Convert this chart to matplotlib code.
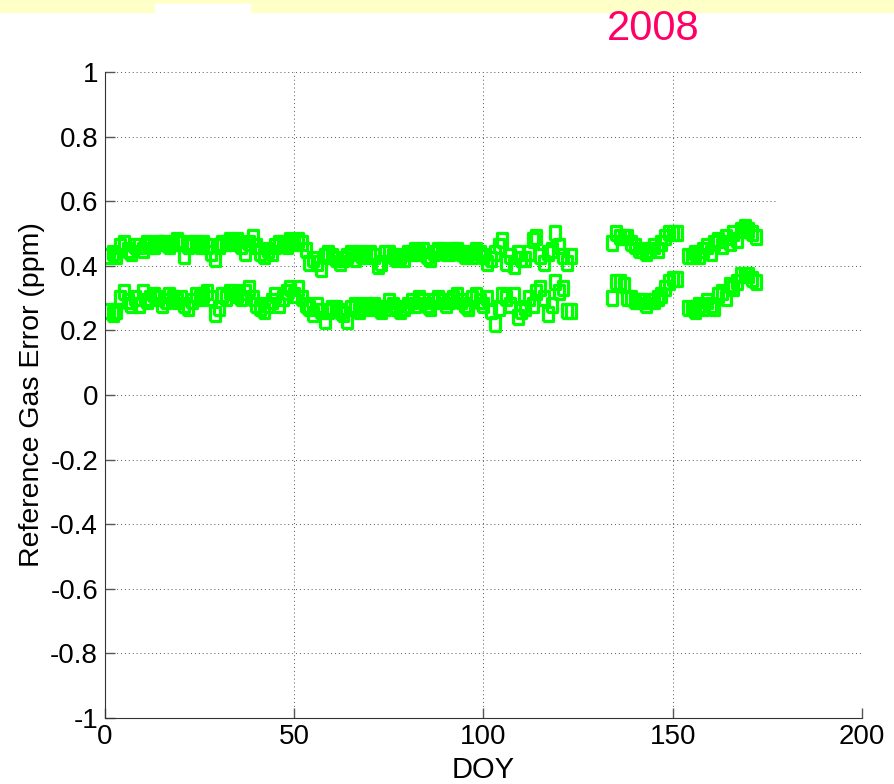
import numpy as np
import matplotlib.pyplot as plt
from matplotlib.patches import Rectangle

# day-of-year segments (first day, last day) -- gaps between them have no data
seg_days = [(1, 123), (134, 151), (154, 172)]

upper_1 = [0.43, 0.44, 0.43, 0.46, 0.47, 0.45, 0.44, 0.46, 0.46, 0.45,
           0.47, 0.46, 0.46, 0.47, 0.47, 0.47, 0.46, 0.47, 0.48, 0.47,
           0.43, 0.46, 0.47, 0.47, 0.46, 0.47, 0.46, 0.44, 0.42, 0.46,
           0.47, 0.47, 0.48, 0.47, 0.48, 0.46, 0.44, 0.47, 0.49, 0.46,
           0.44, 0.43, 0.45, 0.44, 0.46, 0.47, 0.47, 0.46, 0.48, 0.47,
           0.48, 0.47, 0.45, 0.41, 0.42, 0.41, 0.39, 0.43, 0.44, 0.43,
           0.42, 0.41, 0.42, 0.43, 0.44, 0.42, 0.44, 0.43, 0.43, 0.44,
           0.43, 0.40, 0.41, 0.44, 0.44, 0.43, 0.42, 0.43, 0.42, 0.44,
           0.44, 0.45, 0.44, 0.45, 0.43, 0.42, 0.44, 0.45, 0.45, 0.44,
           0.44, 0.45, 0.45, 0.44, 0.43, 0.44, 0.43, 0.45, 0.44, 0.43,
           0.41, 0.42, 0.44, 0.46, 0.48, 0.41, 0.43, 0.40, 0.44, 0.42,
           0.42, 0.44, 0.48, 0.49, 0.43, 0.41, 0.44, 0.45, 0.50, 0.46,
           0.43, 0.41, 0.43]
upper_2 = [0.47, 0.50, 0.49, 0.49, 0.49, 0.47, 0.46, 0.45, 0.45, 0.44,
           0.45, 0.46, 0.45, 0.47, 0.49, 0.50, 0.50, 0.50]
upper_3 = [0.43, 0.43, 0.44, 0.43, 0.45, 0.46, 0.44, 0.47, 0.48, 0.46,
           0.49, 0.47, 0.50, 0.48, 0.51, 0.52, 0.51, 0.50, 0.49]

lower_1 = [0.26, 0.25, 0.26, 0.30, 0.32, 0.29, 0.28, 0.30, 0.28, 0.32,
           0.29, 0.30, 0.31, 0.30, 0.28, 0.29, 0.31, 0.30, 0.29, 0.30,
           0.28, 0.27, 0.29, 0.31, 0.30, 0.31, 0.32, 0.30, 0.25, 0.27,
           0.31, 0.30, 0.32, 0.32, 0.31, 0.30, 0.32, 0.33, 0.30, 0.28,
           0.27, 0.26, 0.28, 0.29, 0.31, 0.28, 0.30, 0.32, 0.33, 0.31,
           0.33, 0.30, 0.28, 0.27, 0.25, 0.28, 0.26, 0.23, 0.26, 0.27,
           0.27, 0.26, 0.25, 0.23, 0.27, 0.28, 0.26, 0.27, 0.28, 0.27,
           0.28, 0.27, 0.26, 0.27, 0.29, 0.28, 0.27, 0.26, 0.27, 0.28,
           0.29, 0.28, 0.30, 0.29, 0.28, 0.27, 0.29, 0.30, 0.29, 0.28,
           0.29, 0.30, 0.31, 0.29, 0.28, 0.27, 0.30, 0.31, 0.29, 0.28,
           0.30, 0.26, 0.22, 0.27, 0.31, 0.30, 0.28, 0.31, 0.24, 0.26,
           0.27, 0.30, 0.28, 0.32, 0.33, 0.30, 0.25, 0.28, 0.35, 0.32,
           0.33, 0.26, 0.26]
lower_2 = [0.30, 0.35, 0.35, 0.34, 0.30, 0.30, 0.29, 0.29, 0.29, 0.28,
           0.29, 0.29, 0.30, 0.31, 0.33, 0.35, 0.36, 0.36]
lower_3 = [0.27, 0.27, 0.26, 0.28, 0.27, 0.29, 0.28, 0.27, 0.31, 0.32,
           0.30, 0.34, 0.33, 0.35, 0.37, 0.37, 0.37, 0.36, 0.35]

xticks = [0, 50, 100, 150, 200]
yticks = [-1, -0.8, -0.6, -0.4, -0.2, 0, 0.2, 0.4, 0.6, 0.8, 1]
ytick_labels = ['-1', '-0.8', '-0.6', '-0.4', '-0.2', '0', '0.2', '0.4', '0.6', '0.8', '1']

green = '#00ff00'
font = 'Liberation Sans'

fig = plt.figure(figsize=(8.95, 7.84), dpi=100)
ax = fig.add_axes([0.1173, 0.0842, 0.8458, 0.8240])

days = np.concatenate([np.arange(a, b + 1) for a, b in seg_days])
upper = np.array(upper_1 + upper_2 + upper_3)
lower = np.array(lower_1 + lower_2 + lower_3)

# slightly tall open square, like the original marker
box = [(-0.75, -1), (0.75, -1), (0.75, 1), (-0.75, 1), (-0.75, -1)]
for y in (upper, lower):
    ax.plot(days, y, ls='none', marker=box, ms=9.5, mfc='none', mec=green, mew=2.3)

ax.set_xlim(0, 200)
ax.set_ylim(-1, 1)
ax.set_xticks(xticks)
ax.set_yticks(yticks)
ax.set_yticklabels(ytick_labels, fontsize=20, family=font)
ax.set_xticklabels([str(t) for t in xticks], fontsize=20, family=font)
ax.tick_params(direction='in', length=7, width=1, color='#555555', top=False, right=False)
ax.tick_params(axis='x', pad=4)
ax.tick_params(axis='y', pad=5)

ax.spines['top'].set_visible(False)
ax.spines['right'].set_visible(False)
for s in ('left', 'bottom'):
    ax.spines[s].set_color('#333333')

ax.grid(True, ls=(0, (1, 3)), lw=0.7, color='#555555')
ax.set_axisbelow(True)

ax.set_xlabel('DOY', fontsize=21, family=font, labelpad=5)
ax.set_ylabel('Reference Gas Error (ppm)', fontsize=20.5, family=font, labelpad=4)

# slide decorations around the chart
fig.patches.append(Rectangle((0, 1 - 12 / 784), 1, 12 / 784, transform=fig.transFigure,
                             color='#ffffc8', zorder=5))
fig.patches.append(Rectangle((155 / 895, 1 - 12 / 784), 95 / 895, 8 / 784,
                             transform=fig.transFigure, color='white', zorder=6))
fig.patches.append(Rectangle((778 / 895, 1 - 246 / 784), 117 / 895, 98 / 784,
                             transform=fig.transFigure, color='white', zorder=6))
fig.text(653 / 895, 1 - 40 / 784, '2008', color='#ff0066', fontsize=30,
         family=font, ha='center', va='baseline', zorder=10)

fig.savefig('out.png', dpi=100)
